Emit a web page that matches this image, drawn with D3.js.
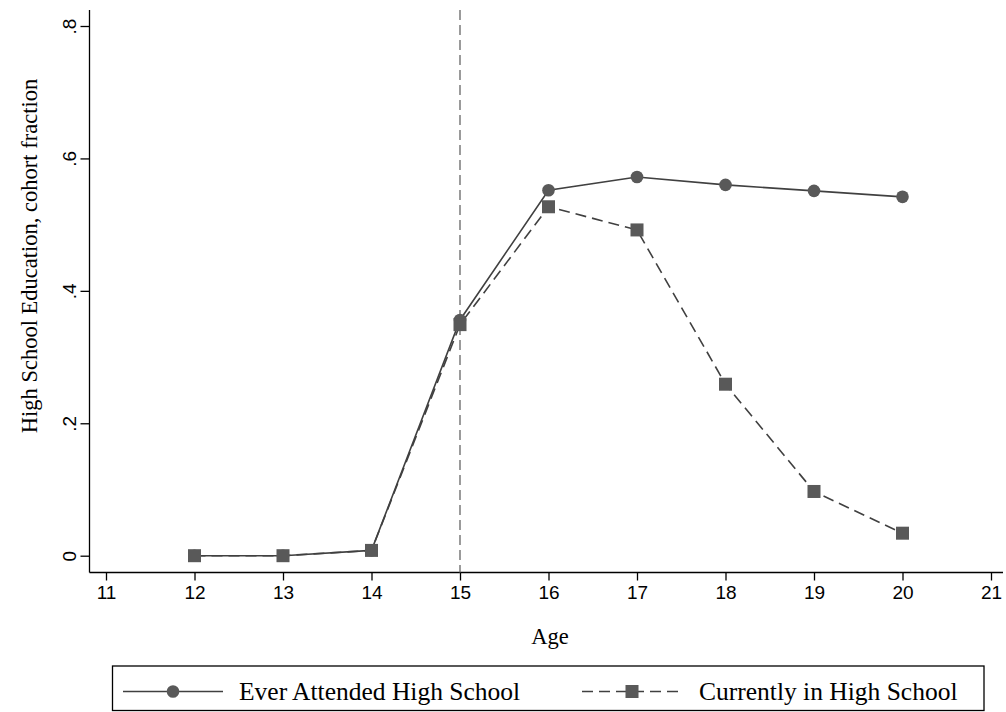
<!DOCTYPE html>
<html>
<head>
<meta charset="utf-8">
<script src="https://cdn.jsdelivr.net/npm/d3@7"></script>
<style>
  body { margin: 0; background: #fff; }
  svg { display: block; font-family: "Liberation Serif", "Times New Roman", serif; }
</style>
</head>
<body>
<div id="chart"></div>
<script>
const ages = [12, 13, 14, 15, 16, 17, 18, 19, 20]
const everAttended = [0, 0, 0.008, 0.356, 0.552, 0.572, 0.560, 0.551, 0.542]
const currentlyIn = [0, 0, 0.008, 0.349, 0.527, 0.492, 0.259, 0.097, 0.034]
const xTicks = [11, 12, 13, 14, 15, 16, 17, 18, 19, 20, 21]
const yTicks = [0, 0.2, 0.4, 0.6, 0.8]
const cutoffAge = 15
const seriesNames = ['Ever Attended High School', 'Currently in High School']

const width = 1006
const height = 712
const markColor = '#595959'
const lineColor = '#404040'

const svg = d3.select('#chart').append('svg').attr('width', width).attr('height', height)

const xScale = d3.scaleLinear().domain([11, 21]).range([106, 991])
const yScale = d3.scaleLinear().domain([0, 0.8]).range([555.7, 26])

const axisLeftX = 89.5
const axisBottomY = 572.5

// y axis
const yAxis = d3.axisLeft(yScale).tickValues(yTicks).tickSize(9).tickPadding(6)
  .tickFormat(function(d) { return d === 0 ? '0' : d3.format('.1f')(d).replace(/^0/, '') })
const gy = svg.append('g').attr('transform', 'translate(' + axisLeftX + ',0)').call(yAxis)
gy.select('.domain').remove()
gy.append('line').attr('x1', 0).attr('x2', 0).attr('y1', 10).attr('y2', axisBottomY)
  .attr('stroke', '#000').attr('stroke-width', 1.3)
gy.selectAll('.tick line').attr('stroke', '#000').attr('stroke-width', 1.3)
gy.selectAll('.tick text')
  .attr('font-size', 19).attr('fill', '#000')
  .attr('text-anchor', 'middle').attr('x', null)
  .attr('transform', 'translate(-20,0) rotate(-90)')
  .attr('dy', '0.35em')

// x axis
const xAxis = d3.axisBottom(xScale).tickValues(xTicks).tickSize(8).tickPadding(5).tickFormat(d3.format('d'))
const gx = svg.append('g').attr('transform', 'translate(0,' + axisBottomY + ')').call(xAxis)
gx.select('.domain').remove()
gx.append('line').attr('x1', axisLeftX).attr('x2', 1003).attr('y1', 0).attr('y2', 0)
  .attr('stroke', '#000').attr('stroke-width', 1.3)
gx.selectAll('.tick line').attr('stroke', '#000').attr('stroke-width', 1.3)
gx.selectAll('.tick text').attr('font-size', 19).attr('fill', '#000')

// axis titles
svg.append('text')
  .attr('transform', 'translate(29,256) rotate(-90)')
  .attr('text-anchor', 'middle')
  .attr('dy', '0.35em')
  .attr('font-size', 22.5)
  .text('High School Education, cohort fraction')

svg.append('text')
  .attr('x', 550).attr('y', 636).attr('dy', '0.35em')
  .attr('text-anchor', 'middle')
  .attr('font-size', 22.5)
  .text('Age')

// vertical reference line
svg.append('line')
  .attr('x1', xScale(cutoffAge)).attr('x2', xScale(cutoffAge))
  .attr('y1', 10).attr('y2', axisBottomY)
  .attr('stroke', '#666').attr('stroke-width', 1.3)
  .attr('stroke-dasharray', '10,5')

const line = d3.line()
  .x(function(d) { return xScale(d[0]) })
  .y(function(d) { return yScale(d[1]) })

const everData = ages.map(function(a, i) { return [a, everAttended[i]] })
const currData = ages.map(function(a, i) { return [a, currentlyIn[i]] })

svg.append('path').datum(currData)
  .attr('d', line).attr('fill', 'none')
  .attr('stroke', lineColor).attr('stroke-width', 1.6)
  .attr('stroke-dasharray', '11,6')

svg.append('path').datum(everData)
  .attr('d', line).attr('fill', 'none')
  .attr('stroke', lineColor).attr('stroke-width', 1.6)

svg.selectAll('circle.ever').data(everData)
  .enter().append('circle')
  .attr('class', 'ever')
  .attr('cx', function(d) { return xScale(d[0]) })
  .attr('cy', function(d) { return yScale(d[1]) })
  .attr('r', 6.3)
  .attr('fill', markColor)

svg.selectAll('rect.curr').data(currData)
  .enter().append('rect')
  .attr('class', 'curr')
  .attr('x', function(d) { return xScale(d[0]) - 6.5 })
  .attr('y', function(d) { return yScale(d[1]) - 6.5 })
  .attr('width', 13).attr('height', 13)
  .attr('fill', markColor)

// legend
const legend = svg.append('g')
legend.append('rect')
  .attr('x', 112.5).attr('y', 666).attr('width', 871.5).attr('height', 44.5)
  .attr('fill', 'none').attr('stroke', '#000').attr('stroke-width', 1.3)

const legendY = 691.5
const items = [
  { name: seriesNames[0], x0: 123, dash: null, marker: 'circle', textX: 239 },
  { name: seriesNames[1], x0: 582, dash: '11,6', marker: 'square', textX: 699 }
]
items.forEach(function(it) {
  legend.append('line')
    .attr('x1', it.x0).attr('x2', it.x0 + 100)
    .attr('y1', legendY).attr('y2', legendY)
    .attr('stroke', lineColor).attr('stroke-width', 1.6)
    .attr('stroke-dasharray', it.dash)
  if (it.marker === 'circle') {
    legend.append('circle').attr('cx', it.x0 + 50).attr('cy', legendY).attr('r', 6.3).attr('fill', markColor)
  } else {
    legend.append('rect').attr('x', it.x0 + 50 - 6.5).attr('y', legendY - 6.5)
      .attr('width', 13).attr('height', 13).attr('fill', markColor)
  }
  legend.append('text')
    .attr('x', it.textX).attr('y', legendY).attr('dy', '0.35em')
    .attr('font-size', 25.5)
    .text(it.name)
})
</script>
</body>
</html>
